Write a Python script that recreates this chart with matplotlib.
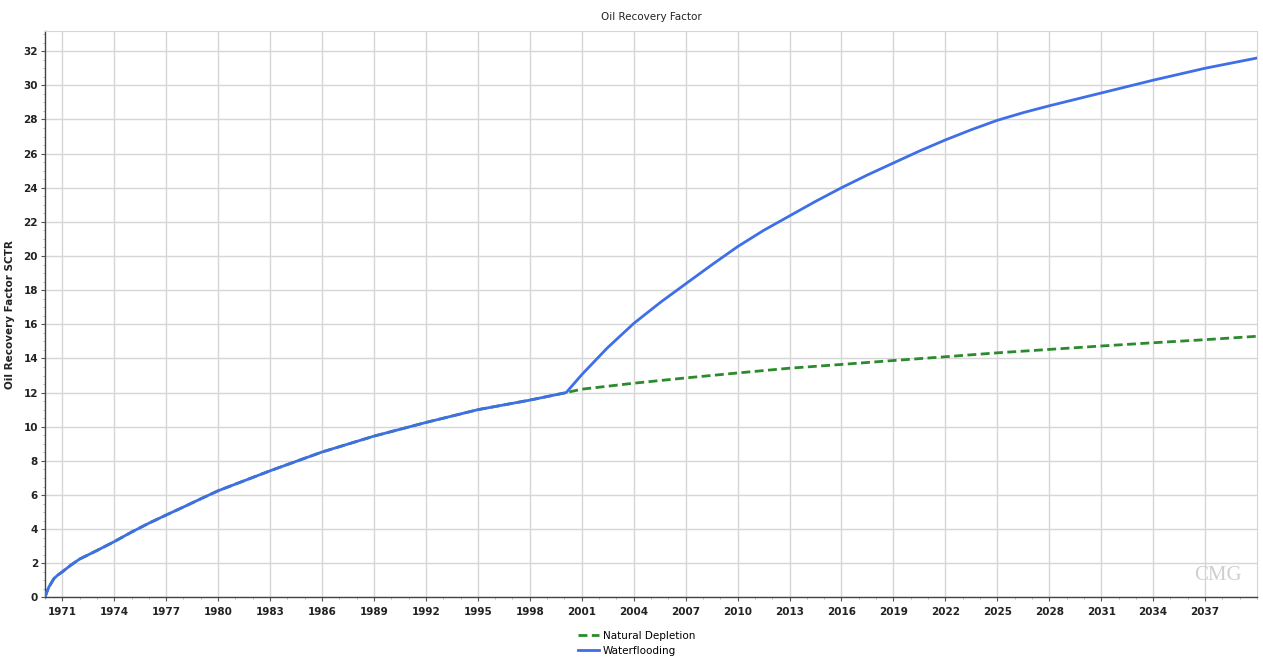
import matplotlib
matplotlib.use("Agg")
import matplotlib.pyplot as plt
from matplotlib.ticker import MultipleLocator, FixedLocator

# Waterflooding case (decimal year, recovery factor %)
water_years = [1970.0, 1970.1, 1970.23, 1970.52, 1970.75, 1971.0, 1971.5, 1972.0,
               1973.0, 1974.0, 1975.0, 1976.0, 1977.0, 1978.0, 1979.0, 1980.0,
               1983.0, 1986.0, 1989.0, 1992.0, 1995.0, 1998.0, 2000.1,
               2001.0, 2002.48, 2004.0, 2005.56, 2007.0, 2008.53, 2010.0, 2011.5,
               2013.0, 2014.5, 2016.0, 2017.5, 2019.0, 2020.5, 2022.0, 2023.5,
               2025.0, 2026.5, 2028.0, 2031.0, 2034.0, 2037.0, 2040.0]
water_rf = [0.0, 0.3, 0.62, 1.11, 1.32, 1.5, 1.9, 2.25,
            2.75, 3.27, 3.83, 4.35, 4.83, 5.3, 5.78, 6.25,
            7.42, 8.52, 9.45, 10.25, 11.0, 11.56, 12.0,
            13.05, 14.62, 16.05, 17.3, 18.37, 19.5, 20.55, 21.5,
            22.35, 23.2, 24.0, 24.75, 25.45, 26.15, 26.8, 27.4,
            27.95, 28.4, 28.8, 29.55, 30.3, 31.0, 31.6]

# Natural depletion case
nat_years = [1970.0, 1970.1, 1970.23, 1970.52, 1970.75, 1971.0, 1971.5, 1972.0,
             1973.0, 1974.0, 1975.0, 1976.0, 1977.0, 1978.0, 1979.0, 1980.0,
             1983.0, 1986.0, 1989.0, 1992.0, 1995.0, 1998.0, 2000.1,
             2001.0, 2004.0, 2007.0, 2010.0, 2013.0, 2016.0, 2019.0,
             2022.0, 2025.0, 2028.0, 2031.0, 2034.0, 2037.0, 2040.0]
nat_rf = [0.0, 0.3, 0.62, 1.11, 1.32, 1.5, 1.9, 2.25,
          2.75, 3.27, 3.83, 4.35, 4.83, 5.3, 5.78, 6.25,
          7.42, 8.52, 9.45, 10.25, 11.0, 11.56, 12.0,
          12.2, 12.55, 12.86, 13.15, 13.43, 13.65, 13.88,
          14.1, 14.33, 14.53, 14.73, 14.92, 15.1, 15.3]

tick_years = list(range(1971, 2040, 3))
tick_labels = [str(y) for y in tick_years]
y_ticks = list(range(0, 33, 2))

fig = plt.figure(figsize=(12.63, 6.57), dpi=100)
ax = fig.add_axes([0.0356, 0.0906, 0.9597, 0.8627])

ax.plot(nat_years, nat_rf, color="#2b8a2b", lw=2.0, ls=(0, (3.2, 1.6)),
        label="Natural Depletion", zorder=3)
ax.plot(water_years, water_rf, color="#3f6fe6", lw=2.0,
        label="Waterflooding", zorder=4)

ax.set_xlim(1970.0, 2040.0)
ax.set_ylim(0, 33.2)

ax.xaxis.set_major_locator(FixedLocator(tick_years))
ax.set_xticklabels(tick_labels)
ax.xaxis.set_minor_locator(MultipleLocator(1))
ax.set_yticks(y_ticks)
ax.yaxis.set_minor_locator(MultipleLocator(0.5))

ax.grid(True, which="major", color="#d6d6d6", lw=1.0)
ax.set_axisbelow(True)

for lbl in ax.get_xticklabels() + ax.get_yticklabels():
    lbl.set_fontweight("bold")
    lbl.set_fontsize(7.5)
    lbl.set_color("#222222")

ax.tick_params(axis="both", which="major", length=3, width=0.8, color="#555555", pad=2)
ax.tick_params(axis="both", which="minor", length=1.5, width=0.5, color="#999999")
ax.tick_params(axis="x", pad=4)

for side in ("top", "right"):
    ax.spines[side].set_color("#d6d6d6")
for side in ("left", "bottom"):
    ax.spines[side].set_color("#444444")
    ax.spines[side].set_linewidth(1.0)

ax.set_title("Oil Recovery Factor", fontsize=7.5, color="#222222", pad=8)
ax.set_ylabel("Oil Recovery Factor SCTR", fontsize=7.5, fontweight="bold",
              color="#222222", labelpad=6)

ax.text(0.987, 0.022, "CMG", transform=ax.transAxes, ha="right", va="bottom",
        fontsize=15, family="Liberation Serif", color="#cfcfcf", zorder=1)

fig.legend(loc="upper center", bbox_to_anchor=(0.504, 0.048), ncol=1,
           frameon=False, fontsize=7.5, handlelength=2.1, handletextpad=0.35,
           labelspacing=0.5, borderpad=0.0)

fig.savefig("out.png", dpi=100)
